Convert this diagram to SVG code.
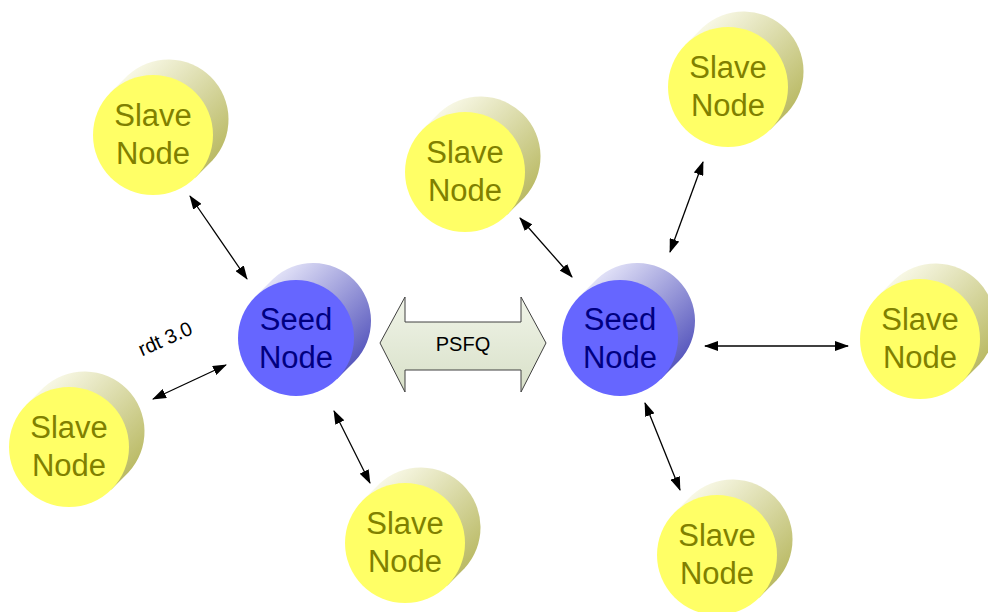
<svg xmlns="http://www.w3.org/2000/svg" width="988" height="612" viewBox="0 0 988 612">
<defs>
<linearGradient id="gSlave" gradientUnits="userSpaceOnUse" x1="-30" y1="-75" x2="70" y2="30">
<stop offset="0" stop-color="#FFFFF4"/>
<stop offset="1" stop-color="#B5B55A"/>
</linearGradient>
<linearGradient id="gSeed" gradientUnits="userSpaceOnUse" x1="-30" y1="-75" x2="70" y2="30">
<stop offset="0" stop-color="#F4F4FF"/>
<stop offset="1" stop-color="#4A4AB8"/>
</linearGradient>
<linearGradient id="gArrow" x1="0" y1="0" x2="0" y2="1">
<stop offset="0" stop-color="#F0F4E8"/>
<stop offset="1" stop-color="#D8E0C8"/>
</linearGradient>
<marker id="ah" viewBox="0 0 14 10" refX="13" refY="5" markerWidth="14" markerHeight="10" markerUnits="userSpaceOnUse" orient="auto-start-reverse">
<path d="M0,0 L14,5 L0,10 Z" fill="#000"/>
</marker>
</defs>
<style>
.sback{fill:url(#gSlave);}
.sfront{fill:#FFFF66;}
.stext{fill:#808000;font-family:"Liberation Sans",Arial,sans-serif;font-size:31px;text-anchor:middle;}
.dback{fill:url(#gSeed);}
.dfront{fill:#6666FF;}
.dtext{fill:#000080;font-family:"Liberation Sans",Arial,sans-serif;font-size:31px;text-anchor:middle;}
.conn{stroke:#000;stroke-width:1.3;fill:none;marker-start:url(#ah);marker-end:url(#ah);}
.lbl{font-family:"Liberation Sans",Arial,sans-serif;font-size:20px;fill:#000;}
</style>
<rect width="988" height="612" fill="#FFFFFF"/>

<g id="slave1" transform="translate(153,135)">
<path class="sback" d="M42.4,42.4 L59.4,25.4 A60,60 0 0 0 -25.4,-59.4 L-42.4,-42.4 Z"/>
<circle class="sfront" r="60"/>
<text class="stext" y="-9">Slave</text>
<text class="stext" y="29">Node</text>
</g>
<g id="slave2" transform="translate(465,172)">
<path class="sback" d="M42.4,42.4 L59.4,25.4 A60,60 0 0 0 -25.4,-59.4 L-42.4,-42.4 Z"/>
<circle class="sfront" r="60"/>
<text class="stext" y="-9">Slave</text>
<text class="stext" y="29">Node</text>
</g>
<g id="slave3" transform="translate(728,87)">
<path class="sback" d="M42.4,42.4 L59.4,25.4 A60,60 0 0 0 -25.4,-59.4 L-42.4,-42.4 Z"/>
<circle class="sfront" r="60"/>
<text class="stext" y="-9">Slave</text>
<text class="stext" y="29">Node</text>
</g>
<g id="slave4" transform="translate(920,339)">
<path class="sback" d="M42.4,42.4 L59.4,25.4 A60,60 0 0 0 -25.4,-59.4 L-42.4,-42.4 Z"/>
<circle class="sfront" r="60"/>
<text class="stext" y="-9">Slave</text>
<text class="stext" y="29">Node</text>
</g>
<g id="slave5" transform="translate(69,447)">
<path class="sback" d="M42.4,42.4 L59.4,25.4 A60,60 0 0 0 -25.4,-59.4 L-42.4,-42.4 Z"/>
<circle class="sfront" r="60"/>
<text class="stext" y="-9">Slave</text>
<text class="stext" y="29">Node</text>
</g>
<g id="slave6" transform="translate(405,543)">
<path class="sback" d="M42.4,42.4 L59.4,25.4 A60,60 0 0 0 -25.4,-59.4 L-42.4,-42.4 Z"/>
<circle class="sfront" r="60"/>
<text class="stext" y="-9">Slave</text>
<text class="stext" y="29">Node</text>
</g>
<g id="slave7" transform="translate(717,555)">
<path class="sback" d="M42.4,42.4 L59.4,25.4 A60,60 0 0 0 -25.4,-59.4 L-42.4,-42.4 Z"/>
<circle class="sfront" r="60"/>
<text class="stext" y="-9">Slave</text>
<text class="stext" y="29">Node</text>
</g>

<g id="seed1" transform="translate(296,338)">
<path class="dback" d="M41,41 L59,23 A58,58 0 0 0 -23,-59 L-41,-41 Z"/>
<circle class="dfront" r="58"/>
<text class="dtext" y="-8">Seed</text>
<text class="dtext" y="30">Node</text>
</g>
<g id="seed2" transform="translate(620,338)">
<path class="dback" d="M41,41 L59,23 A58,58 0 0 0 -23,-59 L-41,-41 Z"/>
<circle class="dfront" r="58"/>
<text class="dtext" y="-8">Seed</text>
<text class="dtext" y="30">Node</text>
</g>

<g id="psfq">
<path d="M380,343 L405,297 L405,322 L521,322 L521,297 L546,343 L521,392 L521,370 L405,370 L405,392 Z" fill="url(#gArrow)" stroke="#404040" stroke-width="1"/>
<text class="lbl" x="463" y="351" text-anchor="middle">PSFQ</text>
</g>

<g id="connectors">
<line class="conn" x1="190" y1="196" x2="247" y2="279"/>
<line class="conn" x1="153" y1="399" x2="226" y2="365"/>
<line class="conn" x1="334" y1="411" x2="370" y2="483"/>
<line class="conn" x1="520" y1="218" x2="572" y2="277"/>
<line class="conn" x1="670" y1="252" x2="703" y2="162"/>
<line class="conn" x1="705" y1="346" x2="848" y2="346"/>
<line class="conn" x1="645" y1="403" x2="680" y2="490"/>
</g>
<text class="lbl" x="0" y="0" text-anchor="middle" transform="translate(168,345) rotate(-24)">rdt 3.0</text>
</svg>
